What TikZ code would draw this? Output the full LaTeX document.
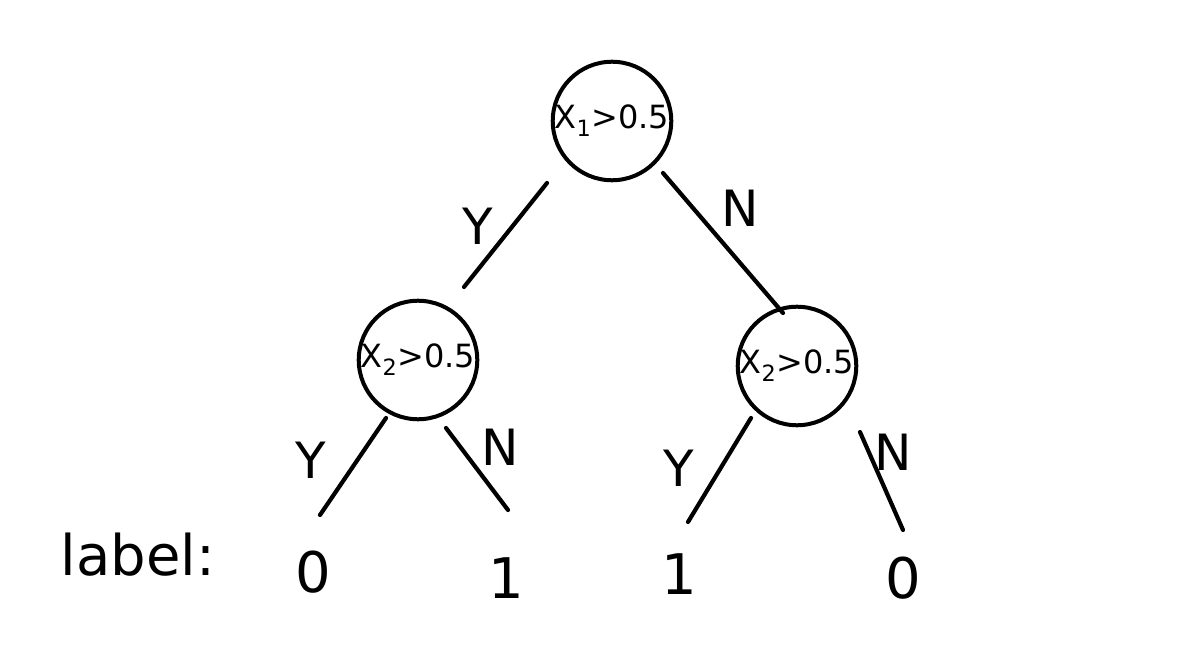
\documentclass[tikz,border=0pt]{standalone}
\usepackage{fontspec}
\setmainfont{DejaVu Sans}
\begin{document}
\begin{tikzpicture}[x=1pt,y=-1pt,line width=4.2pt,line cap=round,
  split/.style={circle,draw,line width=4pt,minimum size=110pt,inner sep=0pt,
    font=\fontsize{32}{32}\selectfont},
  branchtag/.style={font=\fontsize{50}{50}\selectfont,inner sep=0pt},
  leaf/.style={font=\fontsize{56}{56}\selectfont,inner sep=0pt}]
\useasboundingbox (0,0) rectangle (1184,668);
\fill[white] (0,0) rectangle (1184,668);

% split nodes
\node[split] (root) at (612,121) {X\textsubscript{1}>0.5};
\node[split] (lft)  at (418,360) {X\textsubscript{2}>0.5};
\node[split] (rgt)  at (797,366) {X\textsubscript{2}>0.5};

% edge end points
\coordinate (a1) at (547,183); \coordinate (a2) at (464,287);
\coordinate (b1) at (663,173); \coordinate (b2) at (783,313);
\coordinate (c1) at (386,418); \coordinate (c2) at (320,515);
\coordinate (d1) at (446,428); \coordinate (d2) at (508,510);
\coordinate (e1) at (751,418); \coordinate (e2) at (688,522);
\coordinate (f1) at (860,432); \coordinate (f2) at (903,530);

\draw (a1) -- (a2);
\draw (b1) -- (b2);
\draw (c1) -- (c2);
\draw (d1) -- (d2);
\draw (e1) -- (e2);
\draw (f1) -- (f2);

% branch tags
\node[branchtag] (y1) at (478,226) {Y};
\node[branchtag] (n1) at (740,208) {N};
\node[branchtag] (y2) at (311,460) {Y};
\node[branchtag] (n2) at (500,447) {N};
\node[branchtag] (y3) at (679,468) {Y};
\node[branchtag] (n3) at (893,452) {N};

% leaf labels
\node[leaf] (lab) at (138,555) {label:};
\node[leaf] (o1) at (313,572) {0};
\node[leaf] (o2) at (506,578) {1};
\node[leaf] (o3) at (679,574) {1};
\node[leaf] (o4) at (903,578) {0};
\end{tikzpicture}
\end{document}
